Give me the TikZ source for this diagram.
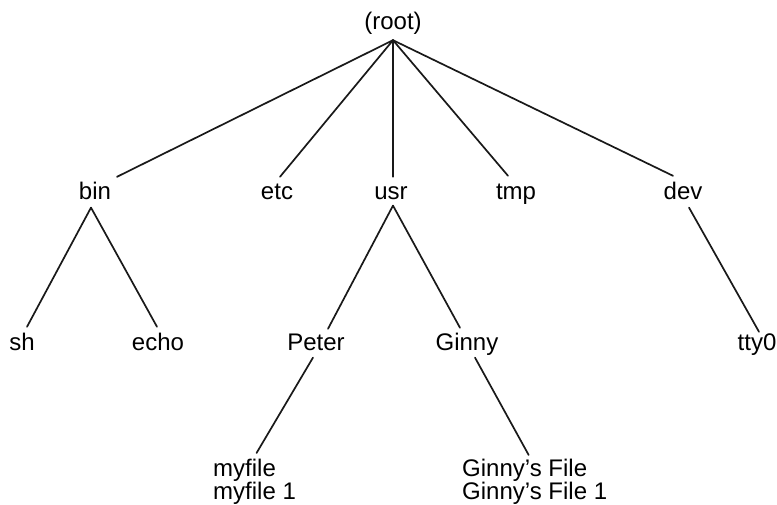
\documentclass[tikz,border=0pt]{standalone}
\usepackage{fontspec}
\setmainfont{Liberation Sans}
\usetikzlibrary{calc}
\tikzset{
  lbl/.style={font=\fontsize{24}{22}\selectfont, inner xsep=2pt, inner ysep=5pt,
              text height=18pt, text depth=2.4pt, anchor=base},
  leaf/.style={font=\fontsize{24}{21}\selectfont, align=left, anchor=north west,
               inner xsep=0pt, inner ysep=0pt},
  edge/.style={line width=1.7pt, draw=black!90, line cap=round}
}
\begin{document}
\begin{tikzpicture}[x=1pt,y=-1pt]
\useasboundingbox (0,0) rectangle (777,505);
% root
\node[lbl, inner ysep=7.6pt] (root) at (393,30) {(root)};
% level 1
\node[lbl] (bin) at (95,200) {bin};
\node[lbl] (etc) at (277,200) {etc};
\node[lbl] (usr) at (391,200) {usr};
\node[lbl] (tmp) at (516,200) {tmp};
\node[lbl] (dev) at (683,200) {dev};
% level 2
\node[lbl] (sh) at (22,350) {sh};
\node[lbl] (echo) at (158,350) {echo};
\node[lbl] (peter) at (316,350) {Peter};
\node[lbl] (ginny) at (467,350) {Ginny};
\node[lbl] (tty0) at (757,350) {tty0};
% level 3
\node[leaf] (myfile) at (213,459) {myfile\\myfile 1};
\node[leaf] (ginnyf) at (462,459) {Ginny’s File\\Ginny’s File 1};
% connectors
\draw[edge] (root.south) -- ($(bin.north)+(22,0)$);
\draw[edge] (root.south) -- ($(etc.north)+(3,0)$);
\draw[edge] (root.south) -- ($(usr.north)+(2,0)$);
\draw[edge] (root.south) -- ($(tmp.north)+(-8,-1)$);
\draw[edge] (root.south) -- ($(dev.north)+(-10,-1)$);
\draw[edge] ($(bin.south)+(-4,0)$) -- ($(sh.north)+(5,0)$);
\draw[edge] ($(bin.south)+(-4,0)$) -- ($(echo.north)+(-1,0)$);
\draw[edge] ($(usr.south)+(2,-2)$) -- ($(peter.north)+(12,2)$);
\draw[edge] ($(usr.south)+(2,-2)$) -- ($(ginny.north)+(-7,1)$);
\draw[edge] ($(dev.south)+(6,0)$) -- ($(tty0.north)+(2,5)$);
\draw[edge] ($(peter.south)+(-3,0)$) -- ($(myfile.north)+(2,-6)$);
\draw[edge] ($(ginny.south)+(8,0)$) -- ($(ginnyf.north)+(-6,-4)$);
\end{tikzpicture}
\end{document}
